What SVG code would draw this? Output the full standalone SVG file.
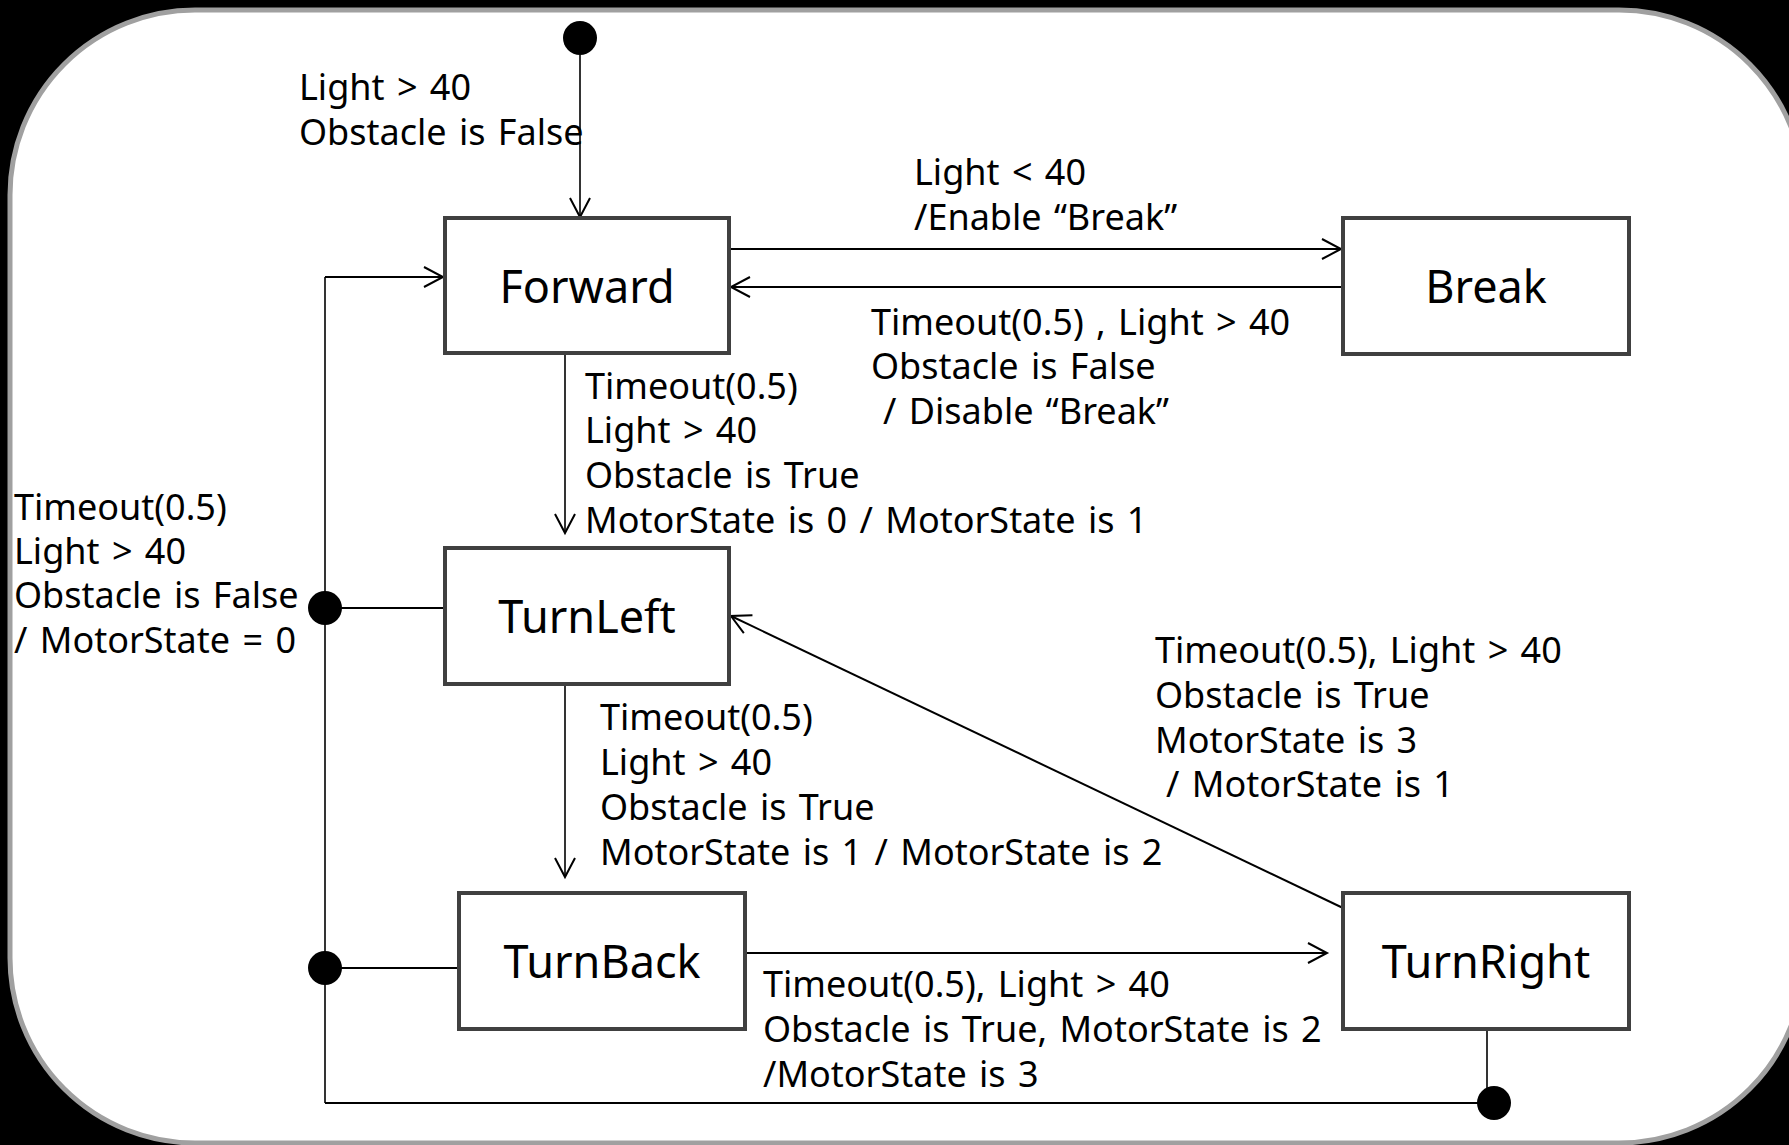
<svg xmlns="http://www.w3.org/2000/svg" width="1789" height="1145" viewBox="0 0 1789 1145">
<defs>
<style>
.node rect{fill:#fff;stroke:#404040;stroke-width:4}
.node text{font-family:"Noto Sans","Open Sans",sans-serif;font-size:45px;fill:#000;text-anchor:middle}
.lbl{font-family:"Noto Sans","Open Sans",sans-serif;font-size:36px;word-spacing:3px;fill:#000}
.conn line,.conn path{fill:none;stroke:#000;stroke-width:2}
.conn .thin{stroke-width:1.6}
.dot{fill:#000}
</style>
<marker id="arr" markerUnits="userSpaceOnUse" markerWidth="24" markerHeight="24" refX="20" refY="11" orient="auto" viewBox="0 0 24 22">
<path d="M1,1 L20,11 L1,21" fill="none" stroke="#000" stroke-width="2"/>
</marker>
</defs>
<rect x="0" y="0" width="1789" height="1145" fill="#000"/>
<rect x="10" y="10" width="1794" height="1133" rx="185" ry="185" fill="#fff" stroke="#a0a0a0" stroke-width="5"/>

<g id="connectors" class="conn">
<circle class="dot" cx="580" cy="38" r="17"/>
<line class="thin" x1="580" y1="55" x2="580" y2="217" marker-end="url(#arr)"/>
<line x1="729" y1="249" x2="1341" y2="249" marker-end="url(#arr)"/>
<line x1="1343" y1="287" x2="731" y2="287" marker-end="url(#arr)"/>
<line class="thin" x1="565" y1="353" x2="565" y2="533" marker-end="url(#arr)"/>
<line class="thin" x1="565" y1="684" x2="565" y2="877" marker-end="url(#arr)"/>
<line x1="745" y1="953" x2="1327" y2="953" marker-end="url(#arr)"/>
<line x1="1343" y1="908" x2="731" y2="616" marker-end="url(#arr)"/>
<line x1="445" y1="608" x2="325" y2="608"/>
<line class="thin" x1="325" y1="1103" x2="325" y2="277"/>
<line x1="325" y1="277" x2="443" y2="277" marker-end="url(#arr)"/>
<line x1="459" y1="968" x2="325" y2="968"/>
<line class="thin" x1="1487" y1="1029" x2="1487" y2="1103"/>
<line x1="1494" y1="1103" x2="325" y2="1103"/>
<circle class="dot" cx="325" cy="608" r="17"/>
<circle class="dot" cx="325" cy="968" r="17"/>
<circle class="dot" cx="1494" cy="1103" r="17"/>
</g>

<g id="labels" class="lbl">
<text x="299" y="100">Light &gt; 40</text>
<text x="299" y="145">Obstacle is False</text>
<text x="914" y="185">Light &lt; 40</text>
<text x="914" y="230">/Enable “Break”</text>
<text x="871" y="335">Timeout(0.5) , Light &gt; 40</text>
<text x="871" y="379">Obstacle is False</text>
<text x="883" y="424">/ Disable “Break”</text>
<text x="585" y="399">Timeout(0.5)</text>
<text x="585" y="443">Light &gt; 40</text>
<text x="585" y="488">Obstacle is True</text>
<text x="585" y="533">MotorState is 0 / MotorState is 1</text>
<text x="14" y="520">Timeout(0.5)</text>
<text x="14" y="564">Light &gt; 40</text>
<text x="14" y="608">Obstacle is False</text>
<text x="14" y="653">/ MotorState = 0</text>
<text x="600" y="730">Timeout(0.5)</text>
<text x="600" y="775">Light &gt; 40</text>
<text x="600" y="820">Obstacle is True</text>
<text x="600" y="865">MotorState is 1 / MotorState is 2</text>
<text x="1155" y="663">Timeout(0.5), Light &gt; 40</text>
<text x="1155" y="708">Obstacle is True</text>
<text x="1155" y="753">MotorState is 3</text>
<text x="1166" y="797">/ MotorState is 1</text>
<text x="763" y="997">Timeout(0.5), Light &gt; 40</text>
<text x="763" y="1042">Obstacle is True, MotorState is 2</text>
<text x="763" y="1087">/MotorState is 3</text>
</g>

<g id="forward" class="node"><rect x="445" y="218" width="284" height="135"/><text x="587" y="303">Forward</text></g>
<g id="break" class="node"><rect x="1343" y="218" width="286" height="136"/><text x="1486" y="303">Break</text></g>
<g id="turnleft" class="node"><rect x="445" y="548" width="284" height="136"/><text x="587" y="633">TurnLeft</text></g>
<g id="turnback" class="node"><rect x="459" y="893" width="286" height="136"/><text x="602" y="978">TurnBack</text></g>
<g id="turnright" class="node"><rect x="1343" y="893" width="286" height="136"/><text x="1486" y="978">TurnRight</text></g>
</svg>
